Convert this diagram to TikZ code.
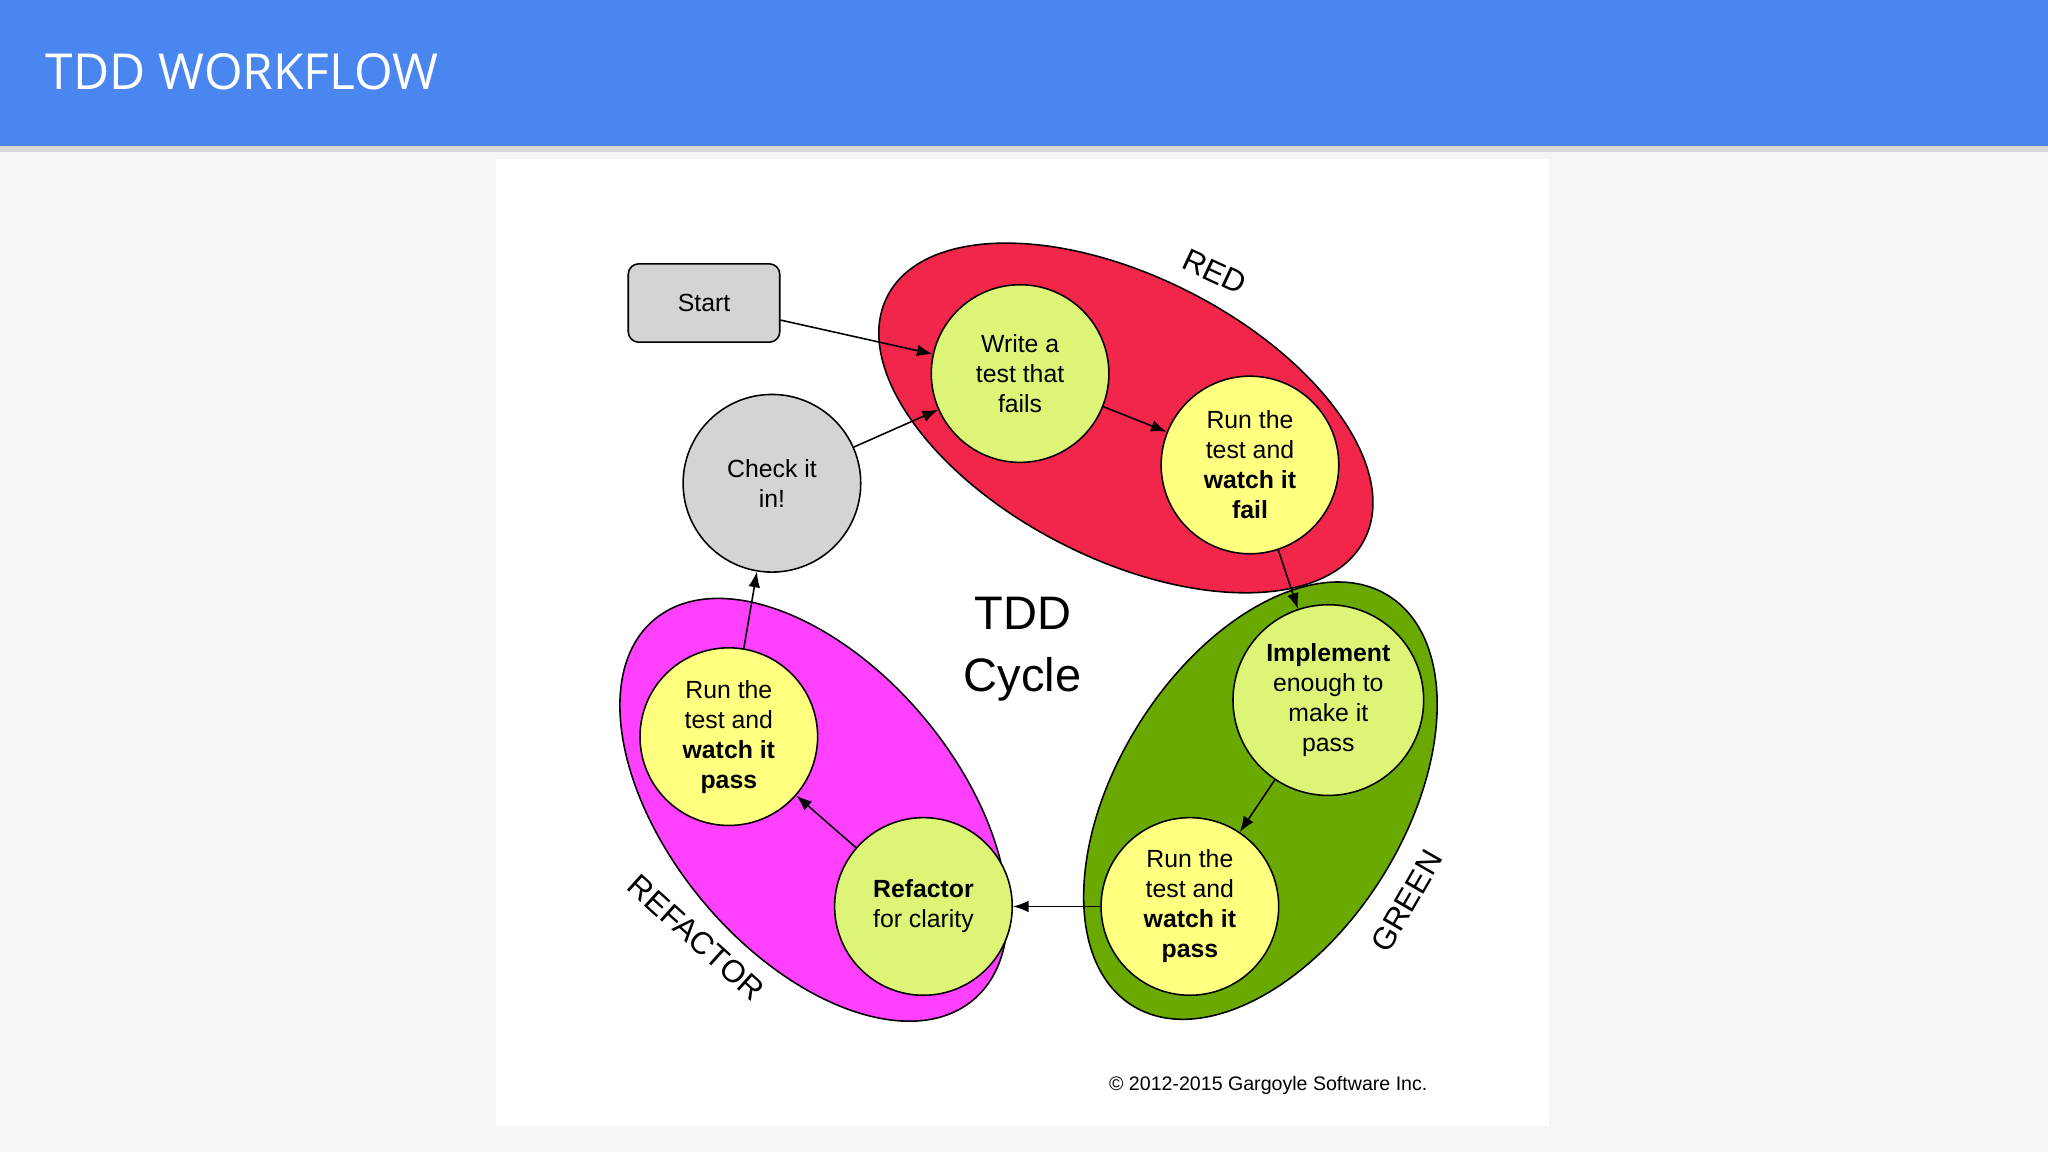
\documentclass[tikz,border=0pt]{standalone}
\usepackage{fontspec}
\setmainfont{Liberation Sans}
\newfontfamily\titlefont{Open Sans}
\usetikzlibrary{arrows.meta}
\definecolor{hdr}{HTML}{4A86F0}
\definecolor{redc}{HTML}{F2264A}
\definecolor{greenc}{HTML}{6AAA00}
\definecolor{magc}{HTML}{FF40FF}
\definecolor{lgreen}{HTML}{DDF576}
\definecolor{lyellow}{HTML}{FFFF80}
\definecolor{lgray}{HTML}{D4D4D4}
\begin{document}
\begin{tikzpicture}[x=0.5pt,y=-0.5pt,
  blob/.style={draw=black,line width=0.6pt},
  stp/.style={circle,draw=black,line width=0.6pt,minimum size=68pt,inner sep=0pt,align=center,font=\fontsize{9.5}{11.5}\selectfont},
  arr/.style={-{Latex[length=6pt,width=4.5pt]},line width=0.6pt},
  lab/.style={font=\fontsize{12}{14}\selectfont}]
\useasboundingbox (0,0) rectangle (1568,882);
\fill[black!4] (0,0) rectangle (1568,882);
\fill[white] (380,122) rectangle (1186,862);
\fill[black!15] (0,112) rectangle (1568,116);
\fill[hdr] (0,0) rectangle (1568,112);
\node[anchor=west,text=white,font=\titlefont\fontsize{19}{22}\selectfont] (title) at (28,55) {TDD WORKFLOW};
% ellipses
\draw[blob,fill=redc] (862,320) ellipse[x radius=205,y radius=108,rotate=-27];
\draw[blob,fill=greenc] (965,613) ellipse[x radius=185,y radius=110,rotate=58];
\draw[blob,fill=magc] (623,620) ellipse[x radius=190,y radius=110,rotate=-50];
% labels
\node[lab,rotate=-25] (lred) at (930,208) {RED};
\node[lab,rotate=60] (lgreen) at (1077,690) {GREEN};
\node[lab,rotate=-42] (lref) at (533,718) {REFACTOR};
\node[align=center,font=\fontsize{18}{24}\selectfont] (cyc) at (783,497) {TDD\\Cycle};
\node[font=\fontsize{7.5}{9}\selectfont] (copy) at (971,831) {© 2012-2015 Gargoyle Software Inc.};
% nodes
\node[draw=black,fill=lgray,rounded corners=4pt,minimum width=58pt,minimum height=30pt,line width=0.6pt,font=\fontsize{9.5}{11.5}\selectfont] (start) at (539,232) {Start};
\node[stp,fill=lgreen] (write) at (781,286) {Write a\\test that\\fails};
\node[stp,fill=lyellow] (fail) at (957,356) {Run the\\test and\\\textbf{watch it}\\\textbf{fail}};
\node[stp,fill=lgreen,minimum size=73pt] (impl) at (1017,536) {\textbf{Implement}\\enough to\\make it\\pass};
\node[stp,fill=lyellow] (passg) at (911,694) {Run the\\test and\\\textbf{watch it}\\\textbf{pass}};
\node[stp,fill=lgreen] (refac) at (707,694) {\textbf{Refactor}\\for clarity};
\node[stp,fill=lyellow] (passr) at (558,564) {Run the\\test and\\\textbf{watch it}\\\textbf{pass}};
\node[stp,fill=lgray] (check) at (591,370) {Check it\\in!};
% arrows
\draw[arr] (start) -- (write);
\draw[arr] (write) -- (fail);
\draw[arr] (fail) -- (impl);
\draw[arr] (impl) -- (passg);
\draw[arr] (passg) -- (refac);
\draw[arr] (refac) -- (passr);
\draw[arr] (passr) -- (check);
\draw[arr] (check) -- (write);
\end{tikzpicture}
\end{document}
